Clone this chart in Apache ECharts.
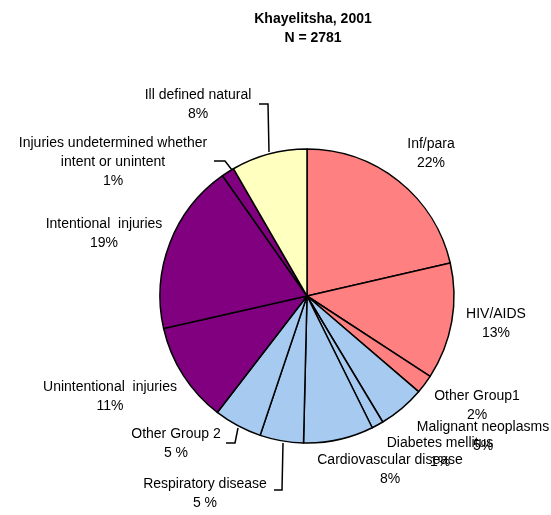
<!DOCTYPE html>
<html>
<head>
<meta charset="utf-8">
<script src="https://cdn.jsdelivr.net/npm/echarts@6/dist/echarts.min.js"></script>
<style>
  html, body { margin: 0; padding: 0; background: #fff; }
  #chart { width: 551px; height: 515px; }
</style>
</head>
<body>
<div id="chart"></div>
<script>
// causes of death, clockwise from 12 o'clock (N = 2781)
const categories = [
  'Inf/para', 'HIV/AIDS', 'Other Group1', 'Malignant neoplasms', 'Diabetes mellitus',
  'Cardiovascular disease', 'Respiratory disease', 'Other Group 2', 'Unintentional  injuries',
  'Intentional  injuries', 'Injuries undetermined whether\nintent or unintent', 'Ill defined natural'
]
const deaths = [595, 356, 58, 142, 36, 214, 133, 147, 306, 523, 39, 232]
const pctLabels = ['22%', '13%', '2%', '5%', '1%', '8%', '5 %', '5 %', '11%', '19%', '1%', '8%']
const groupColor = ['#FF8080', '#FF8080', '#FF8080', '#A6CAF0', '#A6CAF0', '#A6CAF0',
  '#A6CAF0', '#A6CAF0', '#800080', '#800080', '#800080', '#FFFFC0']

// label placement (centre of label block) and optional leader lines
const labelPos = [
  { x: 431, y: 154 }, { x: 496, y: 324 }, { x: 477, y: 406 }, { x: 483, y: 437 },
  { x: 440, y: 453 }, { x: 390, y: 470 }, { x: 205, y: 494 }, { x: 176, y: 444 },
  { x: 110, y: 397 }, { x: 104, y: 234 }, { x: 113, y: 162 }, { x: 198, y: 105 }
]
const leaders = {
  6: [[283, 443], [282, 490], [274, 490]],
  7: [[238, 428], [235, 443], [226, 443]],
  10: [[232, 170], [225, 161], [214, 161]],
  11: [[269, 152], [268, 104], [259, 104]]
}

const chart = echarts.init(document.getElementById('chart'))

chart.setOption({
  animation: false,
  backgroundColor: '#fff',
  title: {
    text: 'Khayelitsha, 2001\nN = 2781',
    left: 308,
    textAlign: 'center',
    top: 5,
    textStyle: {
      fontFamily: 'Liberation Sans',
      fontSize: 14,
      fontWeight: 'bold',
      color: '#000',
      lineHeight: 19
    }
  },
  series: [{
    type: 'pie',
    center: [307, 296],
    radius: 147,
    startAngle: 90,
    clockwise: true,
    itemStyle: { borderColor: '#000', borderWidth: 1.5 },
    label: {
      show: true,
      position: 'outside',
      fontFamily: 'Liberation Sans',
      fontSize: 14,
      color: '#000',
      lineHeight: 19,
      align: 'center',
      overflow: 'none',
      formatter: p => p.name + '\n' + pctLabels[p.dataIndex]
    },
    labelLine: { show: true, length: 5, length2: 5, lineStyle: { color: '#000', width: 1.5 } },
    labelLayout: p => {
      const pos = labelPos[p.dataIndex]
      const out = { x: pos.x, y: pos.y, align: 'center', verticalAlign: 'middle' }
      if (leaders[p.dataIndex]) out.labelLinePoints = leaders[p.dataIndex]
      return out
    },
    data: categories.map((c, i) => ({
      name: c,
      value: deaths[i],
      itemStyle: { color: groupColor[i] },
      labelLine: { show: !!leaders[i] }
    }))
  }]
})
</script>
</body>
</html>
